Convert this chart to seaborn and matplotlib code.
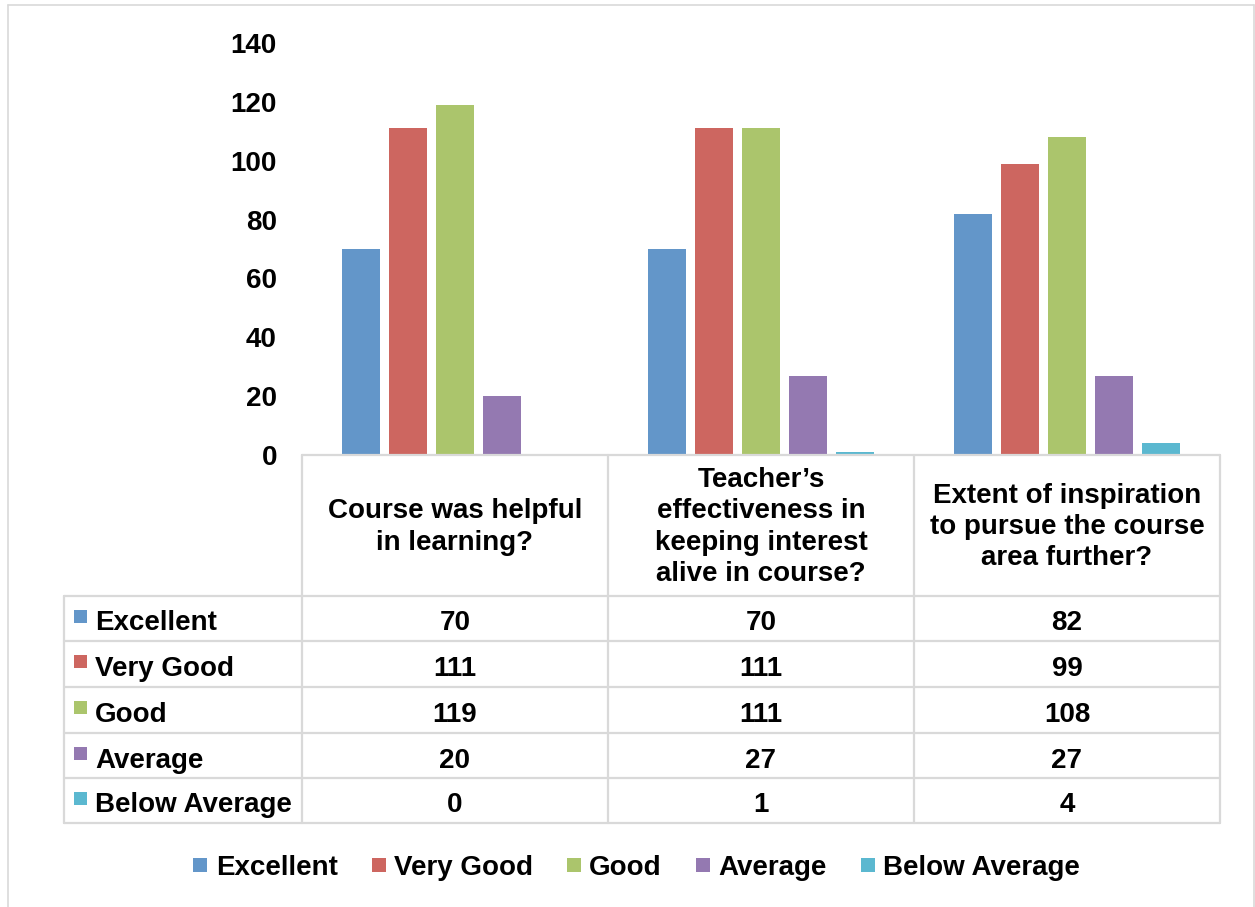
import matplotlib
matplotlib.use("Agg")
import matplotlib.pyplot as plt
import matplotlib.transforms as mtransforms
from matplotlib.lines import Line2D
from matplotlib.patches import Rectangle
import pandas as pd
import seaborn as sns

# ---- data -------------------------------------------------------------
questions = [
    "Course was helpful\nin learning?",
    "Teacher\u2019s\neffectiveness in\nkeeping interest\nalive in course?",
    "Extent of inspiration\nto pursue the course\narea further?",
]
ratings = ["Excellent", "Very Good", "Good", "Average", "Below Average"]
excellent = [70, 70, 82]
very_good = [111, 111, 99]
good = [119, 111, 108]
average = [20, 27, 27]
below_average = [0, 1, 4]
y_ticks = [0, 20, 40, 60, 80, 100, 120, 140]

colors = ["#6396C9", "#CD6660", "#ABC56C", "#9479B1", "#5BB8D0"]

series = dict(zip(ratings, [excellent, very_good, good, average, below_average]))
df = pd.DataFrame(
    [(q, r, series[r][i]) for r in ratings for i, q in enumerate(questions)],
    columns=["question", "rating", "count"],
)

# ---- figure -----------------------------------------------------------
sns.set_style("white")
plt.rcParams["font.family"] = ["Liberation Sans", "DejaVu Sans"]
plt.rcParams["font.weight"] = "bold"
plt.rcParams["text.color"] = "black"
plt.rcParams["ytick.color"] = "black"
plt.rcParams["ytick.labelcolor"] = "black"

W, H = 1255, 907
fig = plt.figure(figsize=(W / 100, H / 100), dpi=100)
fig.patch.set_facecolor("white")


def fx(px):
    return px / W


def fy(py):
    return 1 - py / H


FS = 20
GRID = "#D9D9D9"

# plot area: y=0 sits on the top edge of the data table
ax = fig.add_axes([fx(302), fy(455), fx(1220) - fx(302), fy(43) - fy(455)])
sns.barplot(
    data=df, x="question", y="count", hue="rating",
    order=questions, hue_order=ratings, palette=colors, saturation=1,
    width=0.768, gap=0.19, linewidth=0, legend=False, ax=ax,
)
ax.set_xlim(-0.5, len(questions) - 0.5)
ax.set_ylim(0, 140)
ax.set_yticks(y_ticks)
ax.set_yticklabels([str(t) for t in y_ticks], fontsize=FS, fontweight="bold",
                   color="black")
ax.tick_params(axis="y", length=0, pad=18)
ax.set_xticks([])
ax.set_xlabel("")
ax.set_ylabel("")
for s in ax.spines.values():
    s.set_visible(False)

# ---- data table below the bars -----------------------------------------
tx = mtransforms.blended_transform_factory(ax.transData, fig.transFigure)
bounds = [i - 0.5 for i in range(len(questions) + 1)]
row_edges = [596, 641, 687, 733, 778, 823]
lw = 1.6

# horizontal rules
fig.add_artist(Line2D([bounds[0], bounds[-1]], [fy(455)] * 2, transform=tx,
                      color=GRID, lw=lw))
for ry in row_edges:
    fig.add_artist(Line2D([fx(64), fx(1220)], [fy(ry)] * 2,
                          transform=fig.transFigure, color=GRID, lw=lw))
# vertical rules
for b in bounds:
    fig.add_artist(Line2D([b, b], [fy(455), fy(823)], transform=tx,
                          color=GRID, lw=lw))
fig.add_artist(Line2D([fx(64)] * 2, [fy(596), fy(823)],
                      transform=fig.transFigure, color=GRID, lw=lw))

# header cells
for i, q in enumerate(questions):
    fig.text(i, fy(527), q, transform=tx, ha="center", va="center",
             fontsize=FS, fontweight="bold", linespacing=1.27)

# value rows
for k, r in enumerate(ratings):
    mid = (row_edges[k] + row_edges[k + 1]) / 2
    fig.add_artist(Rectangle((fx(74), fy(mid + 4)), 13 / W, 13 / H,
                             transform=fig.transFigure, color=colors[k], lw=0))
    fig.text(fx(95), fy(mid + 5), r, ha="left", va="center",
             fontsize=FS, fontweight="bold")
    for i, v in enumerate(series[r]):
        fig.text(i, fy(mid + 5), str(v), transform=tx, ha="center", va="center",
                 fontsize=FS, fontweight="bold")

# ---- legend -----------------------------------------------------------
handles = [Line2D([], [], marker="s", linestyle="none", markersize=9.5,
                  markerfacecolor=c, markeredgewidth=0) for c in colors]
fig.legend(handles, ratings, loc="center", ncol=5, frameon=False,
           bbox_to_anchor=(fx(636), fy(868)),
           prop={"size": FS, "weight": "bold"},
           handlelength=0.6, handletextpad=0.25, columnspacing=1.18)

# ---- outer chart border -----------------------------------------------
for xs, ys in [([8, 8], [5, 907]), ([8, 1254], [5, 5]), ([1254, 1254], [5, 907])]:
    fig.add_artist(Line2D([fx(x) for x in xs], [fy(y) for y in ys],
                          transform=fig.transFigure, color=GRID, lw=1.2))

fig.savefig("out.png", dpi=100, facecolor="white")
